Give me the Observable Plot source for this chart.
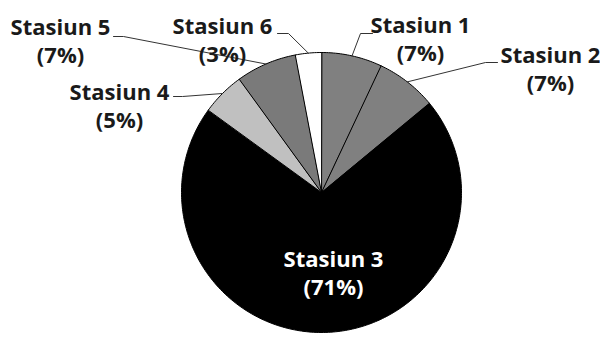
<!DOCTYPE html>
<html><head><meta charset="utf-8">
<script src="https://cdn.jsdelivr.net/npm/d3@7"></script>
<script src="https://cdn.jsdelivr.net/npm/@observablehq/plot@0.6"></script>
<style>
html,body{margin:0;padding:0;background:#fff;}
#chart{width:600px;height:338px;}
</style>
</head><body><div id="chart"></div>
<script>
// ---- data ----
const stations = ["Stasiun 1", "Stasiun 2", "Stasiun 3", "Stasiun 4", "Stasiun 5", "Stasiun 6"];
const shares = [7, 7, 71, 5, 7, 3];

// ---- styles ----
const sliceColors = ["#808080", "#808080", "#000000", "#c0c0c0", "#7a7a7a", "#ffffff"];
const labelColors = ["#1a1a1a", "#1a1a1a", "#ffffff", "#1a1a1a", "#1a1a1a", "#1a1a1a"];

// ---- layout (plot units = pixels) ----
const pieCenter = [321, 192];
const pieRadius = 140;
const labelX = [420, 550, 333, 119, 60, 222];
const labelY = [38, 68, 272, 105, 40, 38.5];
const leaderStart = [[372, 33], [497, 62], null, [173, 96], [113, 36], [277, 33]];
const leaderElbow = [[360, 33], [485, 62], null, [182, 96], [123, 36], [288, 33]];

// ---- build geometry from data ----
const arcs = d3.pie().sort(null).value(d => d)(shares);
const pt = (a, r) => [pieCenter[0] + r * Math.sin(a), pieCenter[1] - r * Math.cos(a)];

const wedgePts = [];
arcs.forEach((a, i) => {
  const n = Math.max(4, Math.ceil((a.endAngle - a.startAngle) / (Math.PI / 180)));
  wedgePts.push({station: stations[i], p: pieCenter});
  for (let k = 0; k <= n; k++) {
    const ang = a.startAngle + (a.endAngle - a.startAngle) * k / n;
    wedgePts.push({station: stations[i], p: pt(ang, pieRadius)});
  }
});

const leaderPts = [];
arcs.forEach((a, i) => {
  if (!leaderStart[i]) return;
  const mid = (a.startAngle + a.endAngle) / 2;
  leaderPts.push({station: stations[i], p: leaderStart[i]});
  leaderPts.push({station: stations[i], p: leaderElbow[i]});
  leaderPts.push({station: stations[i], p: pt(mid, pieRadius)});
});

const labels = stations.map((s, i) => ({
  station: s,
  text: `${s}\n(${shares[i]}%)`,
  x: labelX[i], y: labelY[i], color: labelColors[i]
}));

const chart = Plot.plot({
  width: 600, height: 338,
  margin: 0,
  style: {background: "#fff", overflow: "visible"},
  x: {domain: [0, 600], range: [0, 600], axis: null},
  y: {domain: [0, 338], range: [0, 338], axis: null},
  color: {domain: stations, range: sliceColors},
  marks: [
    Plot.line(wedgePts, {
      x: d => d.p[0], y: d => d.p[1], z: "station",
      fill: "station", stroke: "#000", strokeWidth: 1,
      curve: "linear-closed", strokeLinejoin: "round"
    }),
    Plot.line(leaderPts, {
      x: d => d.p[0], y: d => d.p[1], z: "station",
      stroke: "#333", strokeWidth: 1
    }),
    Plot.text(labels, {
      x: "x", y: "y", text: "text",
      fill: d => d.color,
      fontSize: 22, fontWeight: "bold",
      fontFamily: "'Open Sans', sans-serif",
      lineHeight: 1.27, textAnchor: "middle"
    })
  ]
});
document.getElementById("chart").append(chart);
</script>
</body></html>
